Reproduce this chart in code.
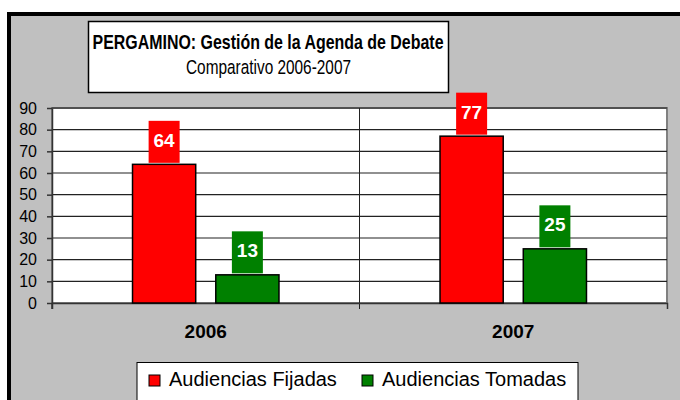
<!DOCTYPE html>
<html>
<head>
<meta charset="utf-8">
<script src="https://cdn.jsdelivr.net/npm/d3@7"></script>
<style>
  body { margin: 0; background: #fff; }
  text { font-family: "Liberation Sans", Arial, sans-serif; }
</style>
</head>
<body>
<script>
const YEARS = ["2006", "2007"];
const SERIES = ["Audiencias Fijadas", "Audiencias Tomadas"];
const FIJADAS = [64, 77];
const TOMADAS = [13, 25];
const Y_TICKS = [0, 10, 20, 30, 40, 50, 60, 70, 80, 90];
const COLORS = ["#ff0000", "#008000"];

const width = 680,
  height = 400,
  plot = { left: 52, right: 667, top: 108, bottom: 303 };

const rows = YEARS.map((year, i) => ({
  year,
  values: [FIJADAS[i], TOMADAS[i]]
}));

const svg = d3
  .select("body")
  .append("svg")
  .attr("width", width)
  .attr("height", height);

// outer chart frame
svg
  .append("rect")
  .attr("x", 9)
  .attr("y", 14)
  .attr("width", 700)
  .attr("height", 420)
  .attr("fill", "#c0c0c0")
  .attr("stroke", "#000")
  .attr("stroke-width", 4);

// title box
const title = svg.append("g");
title
  .append("rect")
  .attr("x", 88.5)
  .attr("y", 21.5)
  .attr("width", 360)
  .attr("height", 71)
  .attr("fill", "#fff")
  .attr("stroke", "#000")
  .attr("stroke-width", 1.5);
title
  .append("text")
  .attr("x", 92.5)
  .attr("y", 49)
  .attr("textLength", 351)
  .attr("lengthAdjust", "spacingAndGlyphs")
  .style("font-weight", "bold")
  .style("font-size", "20.5px")
  .text("PERGAMINO: Gestión de la Agenda de Debate");
title
  .append("text")
  .attr("x", 186)
  .attr("y", 74)
  .attr("textLength", 165)
  .attr("lengthAdjust", "spacingAndGlyphs")
  .style("font-size", "20.5px")
  .text("Comparativo 2006-2007");

const x0 = d3
  .scaleBand()
  .domain(YEARS)
  .range([plot.left, plot.right]);

const x1 = d3
  .scaleBand()
  .domain(SERIES)
  .range([0, x0.bandwidth()])
  .paddingInner(0.241)
  .paddingOuter(0.967);

const y = d3
  .scaleLinear()
  .domain([0, 90])
  .range([plot.bottom, plot.top]);

// plot area
svg
  .append("rect")
  .attr("x", plot.left)
  .attr("y", plot.top)
  .attr("width", plot.right - plot.left)
  .attr("height", plot.bottom - plot.top)
  .attr("fill", "#fff")
  .attr("stroke", "#808080")
  .attr("stroke-width", 2);

// gridlines
svg
  .append("g")
  .selectAll("line")
  .data(Y_TICKS.slice(1))
  .join("line")
  .attr("x1", plot.left)
  .attr("x2", plot.right)
  .attr("y1", d => y(d))
  .attr("y2", d => y(d))
  .attr("stroke", "#222")
  .attr("stroke-width", 1.2);

// category divider
svg
  .append("line")
  .attr("x1", x0("2007"))
  .attr("x2", x0("2007"))
  .attr("y1", plot.top)
  .attr("y2", plot.bottom + 6)
  .attr("stroke", "#222")
  .attr("stroke-width", 1);

// y axis
const yAxis = d3
  .axisLeft(y)
  .tickValues(Y_TICKS)
  .tickSize(5)
  .tickPadding(10)
  .tickSizeOuter(0);

const gy = svg
  .append("g")
  .attr("transform", `translate(${plot.left}, 0)`)
  .call(yAxis);
gy.select(".domain").attr("stroke", "#333").attr("stroke-width", 1.5);
gy.selectAll(".tick line").attr("stroke", "#333").attr("stroke-width", 1.5);
gy.selectAll(".tick text")
  .style("font-family", '"Liberation Sans", Arial, sans-serif')
  .style("font-size", "16px")
  .attr("fill", "#000");
svg
  .append("line")
  .attr("x1", plot.left)
  .attr("x2", plot.left)
  .attr("y1", plot.bottom)
  .attr("y2", plot.bottom + 6)
  .attr("stroke", "#333")
  .attr("stroke-width", 1.5);

// x axis
const xAxis = d3
  .axisBottom(x0)
  .tickSize(0)
  .tickPadding(22)
  .tickSizeOuter(6);

const gx = svg
  .append("g")
  .attr("transform", `translate(0, ${plot.bottom})`)
  .call(xAxis);
gx.select(".domain").attr("stroke", "#333").attr("stroke-width", 1.5);
gx.selectAll(".tick text")
  .style("font-family", '"Liberation Sans", Arial, sans-serif')
  .style("font-size", "19px")
  .style("font-weight", "bold")
  .attr("fill", "#000");

// bars
const groups = svg
  .append("g")
  .selectAll("g")
  .data(rows)
  .join("g")
  .attr("transform", d => `translate(${x0(d.year)}, 0)`);

groups
  .selectAll("rect")
  .data(d => d.values.map((v, i) => ({ key: SERIES[i], value: v, i })))
  .join("rect")
  .attr("x", d => x1(d.key))
  .attr("y", d => y(d.value))
  .attr("width", x1.bandwidth())
  .attr("height", d => y(0) - y(d.value))
  .attr("fill", d => COLORS[d.i])
  .attr("stroke", "#000")
  .attr("stroke-width", 1.5);

// value labels
const labels = groups
  .selectAll("g.label")
  .data(d => d.values.map((v, i) => ({ key: SERIES[i], value: v, i })))
  .join("g")
  .attr("class", "label")
  .attr(
    "transform",
    d => `translate(${x1(d.key) + x1.bandwidth() / 2}, ${y(d.value) - 1.5})`
  );

labels
  .append("rect")
  .attr("x", -15.5)
  .attr("y", -42)
  .attr("width", 31)
  .attr("height", 42)
  .attr("fill", d => COLORS[d.i]);

labels
  .append("text")
  .attr("y", -16)
  .attr("text-anchor", "middle")
  .attr("fill", "#fff")
  .style("font-size", "19px")
  .style("font-weight", "bold")
  .text(d => d.value);

// legend
const legend = svg.append("g");
legend
  .append("rect")
  .attr("x", 137)
  .attr("y", 362.5)
  .attr("width", 441)
  .attr("height", 50)
  .attr("fill", "#fff")
  .attr("stroke", "#000")
  .attr("stroke-width", 1);

const legendX = [149, 362];
const items = legend
  .selectAll("g")
  .data(SERIES)
  .join("g")
  .attr("transform", (d, i) => `translate(${legendX[i]}, 375)`);

items
  .append("rect")
  .attr("width", 11)
  .attr("height", 11)
  .attr("fill", (d, i) => COLORS[i])
  .attr("stroke", "#000")
  .attr("stroke-width", 1);

items
  .append("text")
  .attr("x", 20)
  .attr("y", 11)
  .style("font-size", "20px")
  .text(d => d);
</script>
</body>
</html>
